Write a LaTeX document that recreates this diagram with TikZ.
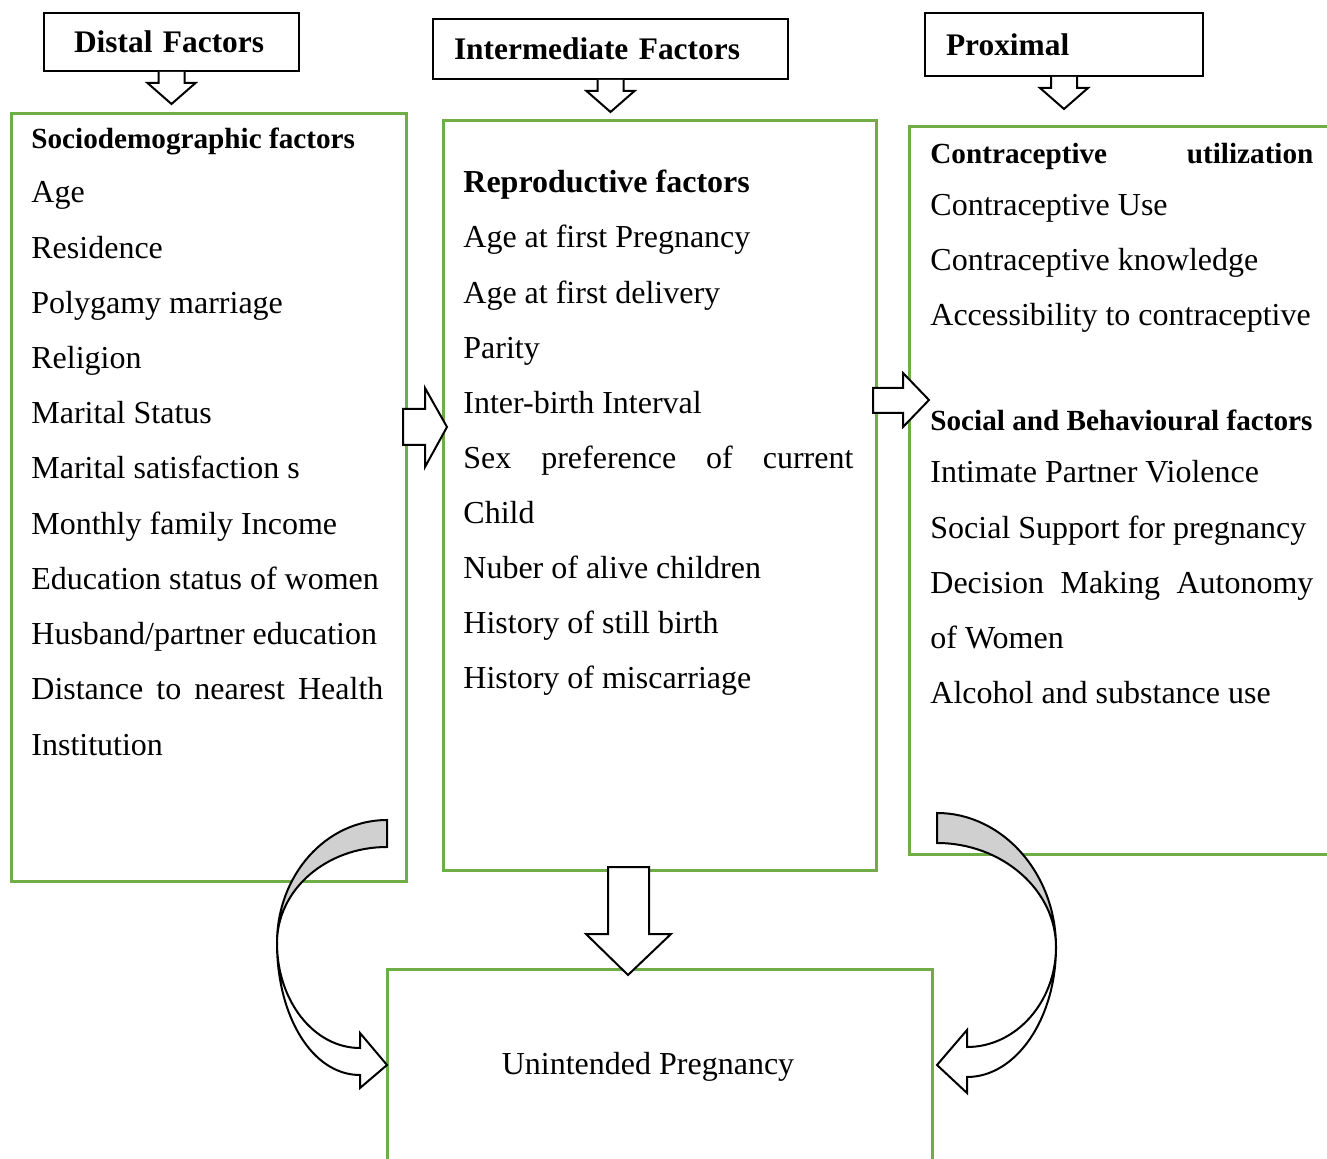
\documentclass[tikz,border=0pt]{standalone}
\usepackage{fontspec}
\setmainfont{Liberation Serif}
\usetikzlibrary{calc}
\usetikzlibrary{positioning}
\definecolor{boxgreen}{HTML}{70AD47}
\definecolor{arrgray}{HTML}{D0D0D0}

\begin{document}
\begin{tikzpicture}[x=0.5pt, y=-0.5pt,
		hdr/.style={rectangle, draw=black, line width=1pt, fill=white, anchor=north west, align=left,
			inner xsep=10.5pt, minimum height=30pt, font=\fontsize{15.7}{19}\selectfont\bfseries},
		gbox/.style={rectangle, draw=boxgreen, line width=1.3pt, anchor=north west, inner sep=0pt},
		blk/.style={draw=black, line width=1pt, fill=white, line join=miter},
		txt/.style={anchor=base west, inner sep=0pt, font=\fontsize{16}{19}\selectfont},
		th/.style={txt, font=\fontsize{14.6}{17}\selectfont\bfseries},
		]
		
		\useasboundingbox (0,0) rectangle (1327,1159);
		\clip (0,0) rectangle (1327,1159);
		
		% header boxes
		\node[hdr, text width=97.5pt, inner xsep=15pt, minimum height=29pt] (dist) at (43,12) {Distal Factors};
		\node[hdr, text width=156.5pt] (inter) at (432,18) {Intermediate Factors};
		\node[hdr, text width=118pt, minimum height=31.5pt] (prox) at (924,12) {Proximal};
		
		\foreach \n in {dist, inter, prox}
			\filldraw[blk] ($(\n.south)+(-13,0)$) -- ++(0,11) -- ++(-11,0) -- ++(24,21) -- ++(24,-21) -- ++(-11,0) -- ++(0,-11);
		
		% green boxes
		\node[gbox, minimum width=197.5pt, minimum height=384pt] (distbox)  at (10,112)  {};
		\node[gbox, minimum width=216.5pt, minimum height=375pt] (interbox) at (442,119) {};
		\node[gbox, minimum width=225pt,   minimum height=364pt] (proxbox)  at (908,125) {};
		\node[gbox, minimum width=272.5pt, minimum height=110pt] (outcome)  at (386,968) {};
		\node[txt, anchor=center] (outtext) at (648,1067) {Unintended Pregnancy};
		
		% distal
		\node[th] (dh) at (31,149) {Sociodemographic factors};
		\foreach \s [count=\i] in {Age, Residence, Polygamy marriage, Religion, Marital Status,
				Marital satisfaction s, Monthly family Income, Education status of women,
				Husband/partner education, {\makebox[176pt][s]{Distance to nearest Health}}, Institution}
			\node[txt] (d\i) at (31,{203+55.2*(\i-1)}) {\s};
		
		% intermediate
		\node[txt, font=\fontsize{16}{19}\selectfont\bfseries] (ih) at (463,193) {Reproductive factors};
		\foreach \s [count=\i] in {Age at first Pregnancy, Age at first delivery, Parity, Inter-birth Interval,
				{\makebox[195pt][s]{Sex preference of current}}, Child, Nuber of alive children,
				History of still birth, History of miscarriage}
			\node[txt] (m\i) at (463,{248+55.1*(\i-1)}) {\s};
		
		% proximal
		\node[th] (ph1) at (930,164) {\makebox[191.5pt][s]{Contraceptive utilization}};
		\foreach \s [count=\i] in {Contraceptive Use, Contraceptive knowledge, Accessibility to contraceptive}
			\node[txt] (p\i) at (930,{216+55*(\i-1)}) {\s};
		\node[th] (ph2) at (930,431) {Social and Behavioural factors};
		\foreach \s [count=\i] in {Intimate Partner Violence, Social Support for pregnancy,
				{\makebox[191.5pt][s]{Decision Making Autonomy}}, of Women, Alcohol and substance use}
			\node[txt] (s\i) at (930,{483+55.2*(\i-1)}) {\s};
		
		% block arrows
		\filldraw[blk] (403,409) -- (425,409) -- (425,388) -- (447,427) -- (425,467) -- (425,445) -- (403,445) -- cycle;
		\filldraw[blk] (873,388) -- (903,388) -- (903,373) -- (929,400) -- (903,427) -- (903,413) -- (873,413) -- cycle;
		\filldraw[blk] (608,867) -- (649,867) -- (649,934) -- (671,934) -- (628,975) -- (586,934) -- (608,934) -- cycle;
		
		% curved arrows
		\filldraw[blk, fill=arrgray] (387,820) .. controls (326,820) and (277,875) .. (277,943)
			.. controls (277,890) and (326,847) .. (387,847) -- cycle;
		\filldraw[blk] (277,943) .. controls (277,1001) and (314,1048) .. (360,1048) -- (360,1033) -- (387,1065)
			-- (360,1088) -- (360,1075) .. controls (312,1075) and (277,1016) .. (277,943) -- cycle;
		
		\filldraw[blk, fill=arrgray] (937,813) .. controls (1002,813) and (1056,873) .. (1056,947)
			.. controls (1056,890) and (1002,843) .. (937,843) -- cycle;
		\filldraw[blk] (1056,947) .. controls (1056,1002) and (1016,1047) .. (967,1047) -- (967,1030) -- (937,1065)
			-- (967,1093) -- (967,1077) .. controls (1016,1077) and (1056,1019) .. (1056,947) -- cycle;
	\end{tikzpicture}
\end{document}
